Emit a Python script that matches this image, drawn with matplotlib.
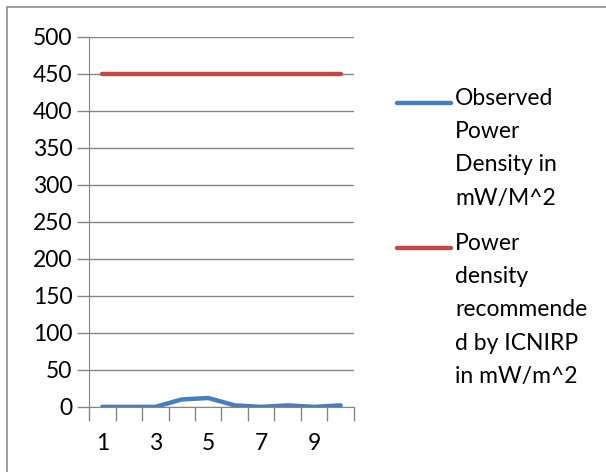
import matplotlib.pyplot as plt
from matplotlib.patches import Rectangle
from matplotlib.lines import Line2D

# data
samples = [1, 2, 3, 4, 5, 6, 7, 8, 9, 10]
observed = [0, 0, 0, 10, 12, 2, 0, 2, 0, 2]
recommended = [450, 450, 450, 450, 450, 450, 450, 450, 450, 450]
xtick_labels = ["1", "3", "5", "7", "9"]
labels = ["Observed\nPower\nDensity in\nmW/M^2",
          "Power\ndensity\nrecommende\nd by ICNIRP\nin mW/m^2"]

plt.rcParams['font.family'] = ['Lato', 'DejaVu Sans']
grid_c = "#868686"

fig = plt.figure(figsize=(6.06, 4.72), dpi=100)
ax = fig.add_axes([0.147, 0.138, 0.437, 0.784])

ax.plot(samples, observed, color="#4a7ebb", lw=3.2, solid_capstyle="round")
ax.plot(samples, recommended, color="#be4b48", lw=3.2, solid_capstyle="round")

ax.set_xlim(0.5, 10.5)
ax.set_ylim(0, 500)
ax.set_yticks(range(0, 501, 50))
ax.grid(axis="y", color=grid_c, lw=1)
ax.set_axisbelow(True)

# labels on odd categories, tick marks between categories
ax.set_xticks([1, 3, 5, 7, 9])
ax.set_xticklabels(xtick_labels)
ax.set_xticks([x + 0.5 for x in range(0, 11)], minor=True)
ax.tick_params(axis="x", which="major", length=0, pad=19, labelsize=16.5)
ax.tick_params(axis="x", which="minor", length=10, color=grid_c, width=1)
ax.tick_params(axis="y", length=9, color=grid_c, width=1, labelsize=16.5, pad=3)

for s in ["top", "right"]:
    ax.spines[s].set_visible(False)
for s in ["left", "bottom"]:
    ax.spines[s].set_color(grid_c)

# legend drawn by hand
colors = ["#4a7ebb", "#be4b48"]
tops = [103, 248]
for lab, c, ty in zip(labels, colors, tops):
    yf = 1 - ty / 472
    fig.add_artist(Line2D([397 / 606, 451 / 606], [yf, yf], color=c, lw=3.2,
                          solid_capstyle="round"))
    fig.text(455 / 606, yf + 15 / 472, lab, fontsize=16.5, va="top", ha="left",
             linespacing=1.72)

# chart border
fig.add_artist(Rectangle((7 / 606, -0.01), 1.0, 1 - 7 / 472 + 0.01,
                         transform=fig.transFigure, fill=False,
                         edgecolor="#8c8c8c", lw=1.2))

fig.savefig("out.png", dpi=100)
